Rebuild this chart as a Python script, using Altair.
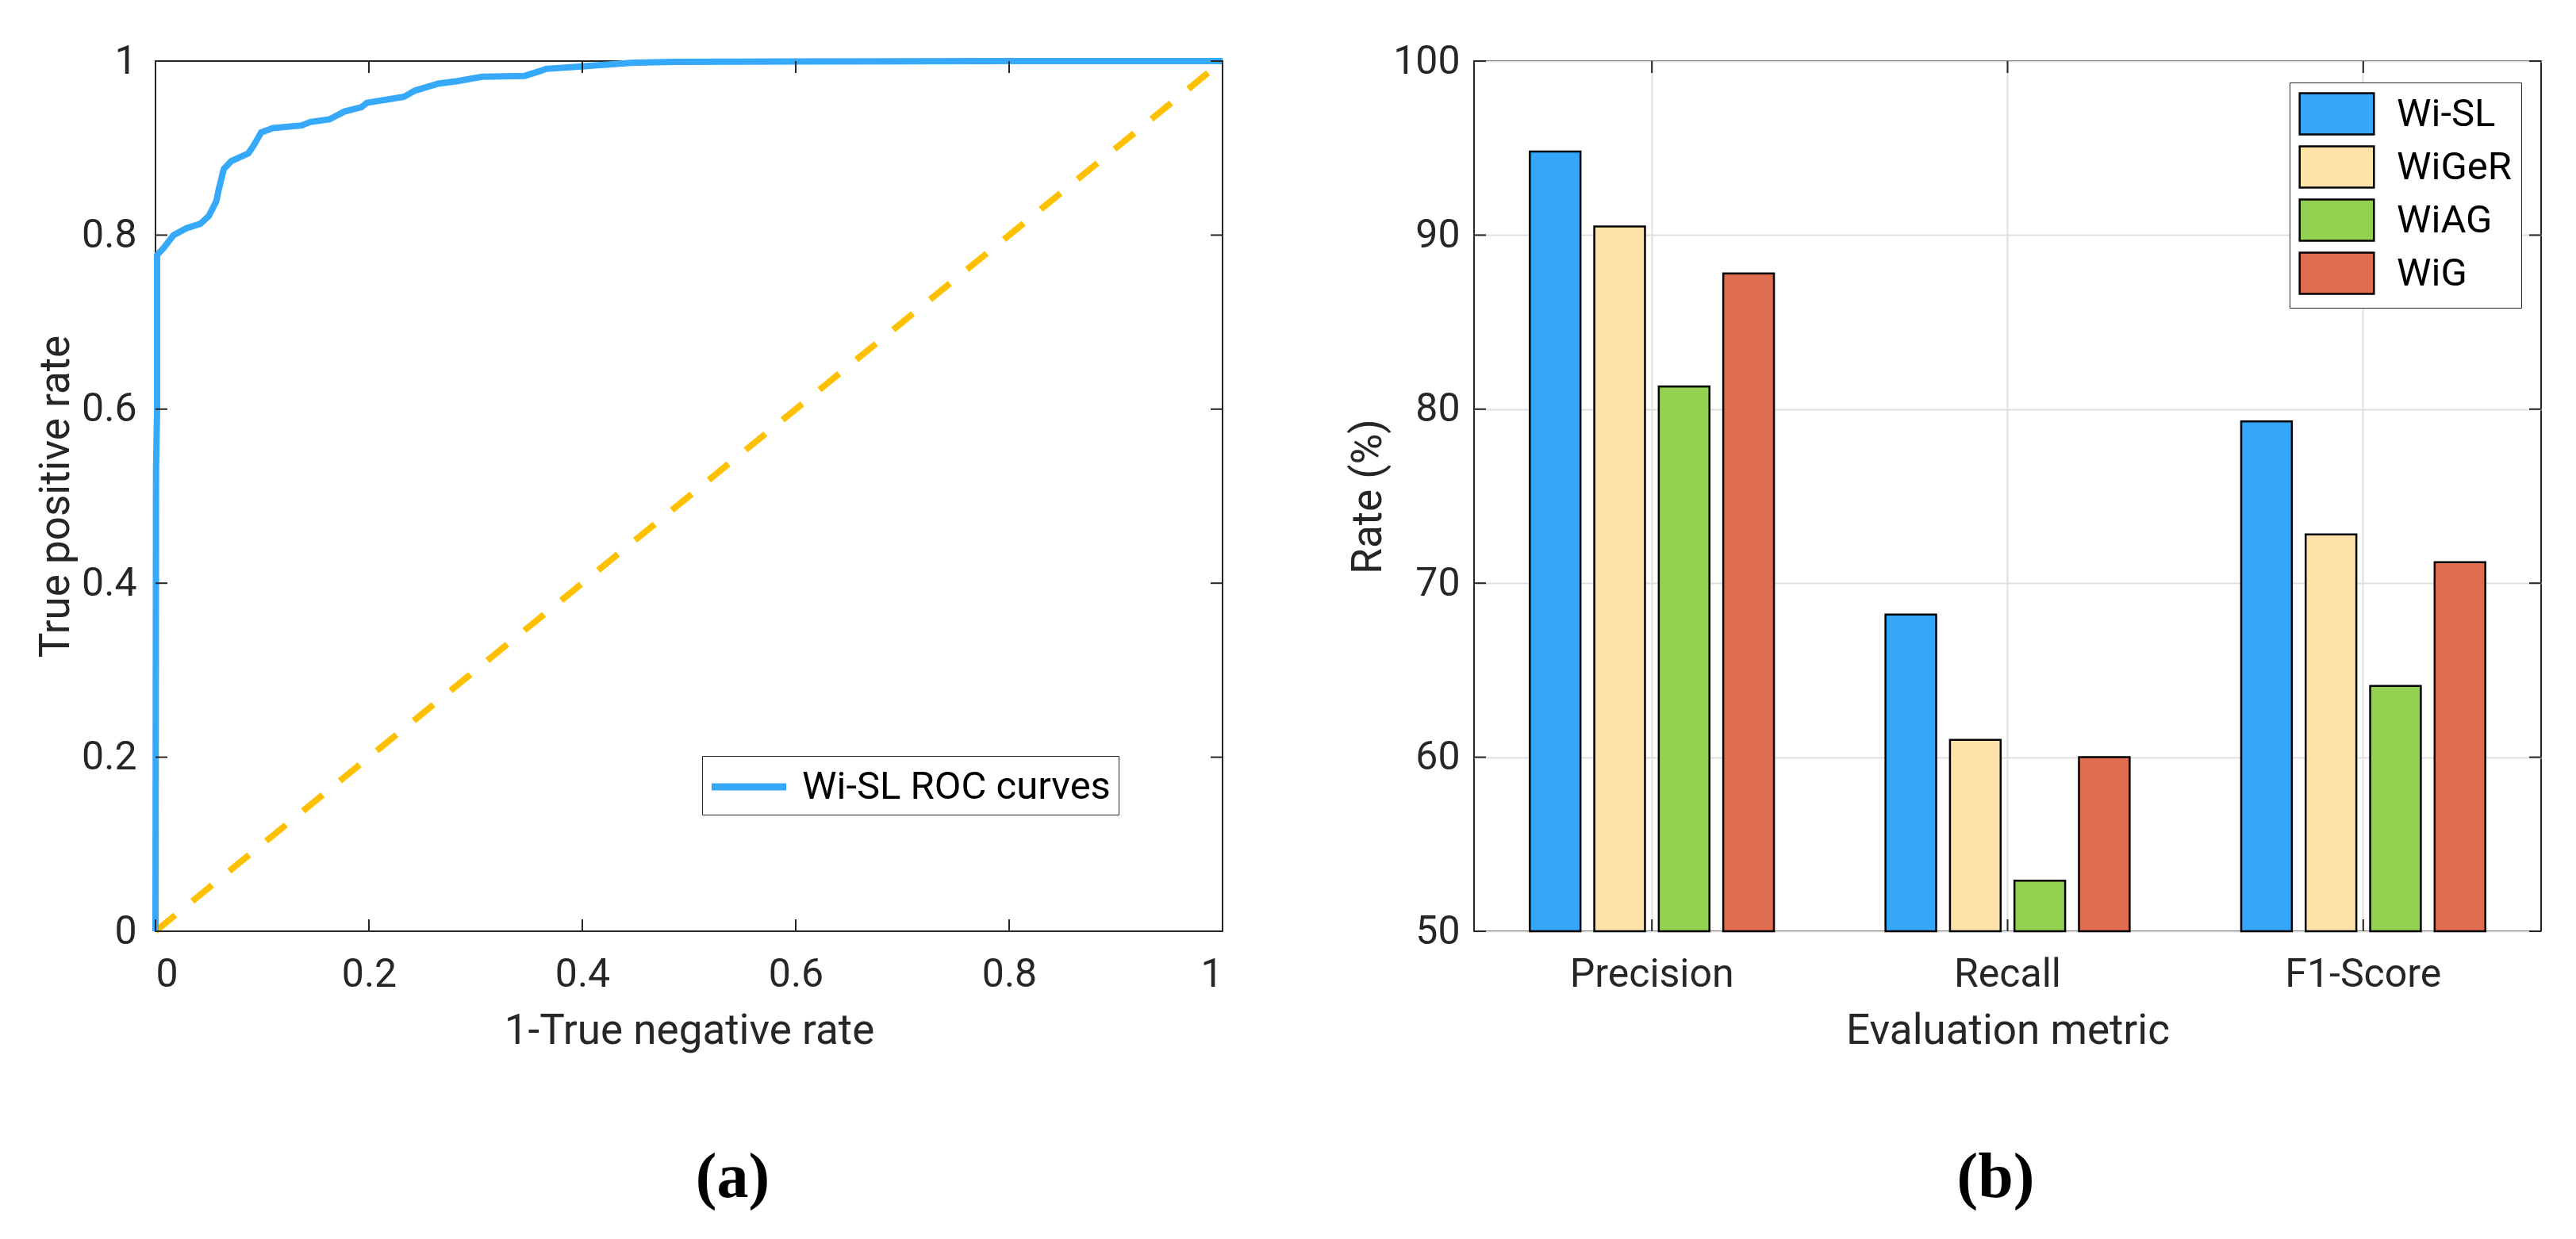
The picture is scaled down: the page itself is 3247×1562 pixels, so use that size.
import altair as alt
import pandas as pd

# ROC curve (1-TNR, TPR)
fpr = [0.0, 0.0005, 0.0015, 0.0015, 0.0074, 0.017, 0.029, 0.042, 0.050, 0.057,
       0.059, 0.064, 0.071, 0.087, 0.092, 0.099, 0.110, 0.137, 0.145, 0.163,
       0.177, 0.193, 0.198, 0.233, 0.243, 0.265, 0.283, 0.306, 0.346, 0.359,
       0.366, 0.402, 0.445, 0.485, 0.600, 0.800, 1.0]
tpr = [0.0, 0.530, 0.600, 0.777, 0.785, 0.800, 0.808, 0.813, 0.822, 0.839,
       0.851, 0.876, 0.885, 0.894, 0.903, 0.918, 0.923, 0.926, 0.930, 0.933,
       0.942, 0.947, 0.952, 0.959, 0.966, 0.974, 0.977, 0.982, 0.983, 0.988,
       0.991, 0.994, 0.998, 0.999, 0.9995, 1.0, 1.0]
diagonal = [0, 1]
roc_ticks = [0, 0.2, 0.4, 0.6, 0.8, 1]

metrics = ["Precision", "Recall", "F1-Score"]
methods = ["Wi-SL", "WiGeR", "WiAG", "WiG"]
precision = [94.8, 90.5, 81.3, 87.8]
recall = [68.2, 61.0, 52.9, 60.0]
f1_score = [79.3, 72.8, 64.1, 71.2]
rate_ticks = [50, 60, 70, 80, 90, 100]

cores = ["#35A7FA", "#FFE2A8", "#93D150", "#E06D50"]
INK = "#262626"
W, H = 1345, 1097
TICK = 15


def ticks_dentro(df_x, df_y, cx, cy):
    # MATLAB-style ticks pointing into the box, on all four sides
    tx = alt.Chart(df_x).mark_rule(color=INK, strokeWidth=2)
    ty = alt.Chart(df_y).mark_rule(color=INK, strokeWidth=2)
    return [
        tx.encode(x=cx, y=alt.value(H), y2=alt.value(H - TICK)),
        tx.encode(x=cx, y=alt.value(0), y2=alt.value(TICK)),
        ty.encode(y=cy, x=alt.value(0), x2=alt.value(TICK)),
        ty.encode(y=cy, x=alt.value(W), x2=alt.value(W - TICK)),
    ]


# ---------- (a) ROC ----------
df_roc = pd.DataFrame({"fpr": fpr, "tpr": tpr, "ordem": range(len(fpr)),
                       "serie": "Wi-SL ROC curves"})
df_diag = pd.DataFrame({"fpr": diagonal, "tpr": diagonal})
df_tick_roc = pd.DataFrame({"fpr": roc_ticks, "tpr": roc_ticks})

x_roc = alt.X("fpr:Q", scale=alt.Scale(domain=[0, 1], nice=False),
              axis=alt.Axis(values=roc_ticks, format="~g", title="1-True negative rate",
                            ticks=False, domain=False, grid=False,
                            labelPadding=29, titlePadding=20))
y_roc = alt.Y("tpr:Q", scale=alt.Scale(domain=[0, 1], nice=False),
              axis=alt.Axis(values=roc_ticks, format="~g", title="True positive rate",
                            ticks=False, domain=False, grid=False,
                            labelPadding=24, titlePadding=5))

diag_line = alt.Chart(df_diag).mark_line(
    color="#FFC000", strokeWidth=8, strokeDash=[32, 28]
).encode(x=x_roc, y=y_roc)

roc_line = alt.Chart(df_roc).mark_line(strokeWidth=8).encode(
    x=x_roc,
    y=y_roc,
    order="ordem:Q",
    color=alt.Color("serie:N",
                    scale=alt.Scale(domain=["Wi-SL ROC curves"], range=["#36A9FA"]),
                    legend=alt.Legend(title=None, orient="none", legendX=689, legendY=876,
                                      symbolType="M-1.92,0L1.92,0", symbolSize=2401,
                                      symbolStrokeWidth=9, symbolOffset=20,
                                      labelFontSize=49, labelColor="black",
                                      labelOffset=38, labelLimit=1000, padding=10,
                                      strokeColor=INK, fillColor="white"))
)

painel_a = alt.layer(
    diag_line, roc_line,
    *ticks_dentro(df_tick_roc, df_tick_roc, "fpr:Q", "tpr:Q")
).properties(
    width=W, height=H,
    title=alt.TitleParams("(a)", orient="bottom", font="Liberation Serif", fontSize=80,
                          fontWeight="bold", color="black", offset=120, dx=55)
)

# ---------- (b) bars ----------
df_bar = pd.DataFrame({
    "metric": [m for m in metrics for _ in methods],
    "method": methods * len(metrics),
    "rate": precision + recall + f1_score,
})
df_tick_x = pd.DataFrame({"metric": metrics})
df_tick_y = pd.DataFrame({"rate": rate_ticks})

x_bar = alt.X("metric:N", sort=metrics,
              scale=alt.Scale(paddingInner=0, paddingOuter=0),
              axis=alt.Axis(title="Evaluation metric", labelAngle=0, ticks=False,
                            domain=False, grid=True, bandPosition=0.5,
                            labelPadding=29, titlePadding=20))
y_bar = alt.Y("rate:Q", scale=alt.Scale(domain=[50, 100], nice=False, zero=False),
              axis=alt.Axis(values=rate_ticks, title="Rate (%)", ticks=False,
                            domain=False, grid=True, labelPadding=18, titlePadding=4))

bars = alt.Chart(df_bar).mark_bar(stroke="black", strokeWidth=2.5, opacity=1).encode(
    x=x_bar,
    xOffset=alt.XOffset("method:N", sort=methods,
                        scale=alt.Scale(paddingInner=0.214, paddingOuter=0.865)),
    y=y_bar,
    y2=alt.datum(50),
    color=alt.Color("method:N", sort=methods,
                    scale=alt.Scale(domain=methods, range=cores),
                    legend=alt.Legend(title=None, orient="none", legendX=1028, legendY=27,
                                      symbolType="M-1.8,-1L1.8,-1L1.8,1L-1.8,1Z",
                                      symbolSize=2704, symbolStrokeColor="black",
                                      symbolStrokeWidth=2.5, symbolOpacity=1,
                                      symbolOffset=20, labelFontSize=49,
                                      labelColor="black", labelOffset=48,
                                      labelLimit=1000, rowPadding=4, padding=12,
                                      strokeColor=INK, fillColor="white"))
)

painel_b = alt.layer(
    bars,
    *ticks_dentro(df_tick_x, df_tick_y,
                  alt.X("metric:N", sort=metrics, bandPosition=0.5), "rate:Q")
).properties(
    width=W, height=H,
    title=alt.TitleParams("(b)", orient="bottom", font="Liberation Serif", fontSize=80,
                          fontWeight="bold", color="black", offset=120, dx=-15)
)

chart = alt.hconcat(painel_a, painel_b, spacing=139).resolve_scale(
    color="independent"
).resolve_legend(
    color="independent"
).properties(
    padding={"left": 35, "top": 43, "right": 5, "bottom": 5}
).configure(
    font="Roboto", background="white"
).configure_view(
    stroke=INK, strokeWidth=2
).configure_axis(
    labelFont="Roboto", labelFontSize=50, labelColor=INK, labelLimit=1000,
    titleFont="Roboto", titleFontSize=53, titleFontWeight="normal", titleColor=INK,
    gridColor="#DFDFDF", gridWidth=2
).configure_legend(
    labelFont="Roboto"
)

chart.save("out.html", embed_options={"renderer": "svg", "actions": False})
